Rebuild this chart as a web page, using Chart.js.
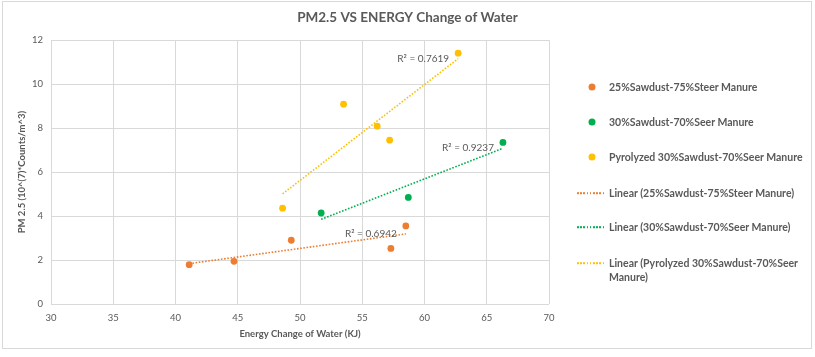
<!DOCTYPE html>
<html><head><meta charset="utf-8">
<script src="https://cdn.jsdelivr.net/npm/chart.js@4.4.1/dist/chart.umd.min.js"></script>
<style>
html,body{margin:0;padding:0;background:#fff;}
#wrap{position:relative;width:815px;height:357px;overflow:hidden;}
#frame{position:absolute;left:2px;top:1px;width:810px;height:348px;border:1px solid #d9d9d9;box-sizing:border-box;}
#c{position:absolute;left:0;top:0;}
#legend{position:absolute;left:0;top:0;width:815px;height:357px;font-family:Lato,"Open Sans",sans-serif;font-size:10.5px;color:#595959;font-weight:bold;}
.txt{position:absolute;left:609px;white-space:nowrap;line-height:14px;transform:translateY(-7px);}
.dot{position:absolute;width:7px;height:7px;border-radius:50%;transform:translate(-3.5px,-3.5px);}
.ln{position:absolute;width:27px;height:1.6px;transform:translateY(-0.8px);}
</style></head>
<body>
<div id="wrap">
<div id="frame"></div>
<canvas id="c" width="815" height="357"></canvas>
<div id="legend"></div>
</div>
<script>
// ---- data ----
const seriesNames = ['25%Sawdust-75%Steer Manure', '30%Sawdust-70%Seer Manure', 'Pyrolyzed 30%Sawdust-70%Seer Manure'];
const trendNames = ['Linear (25%Sawdust-75%Steer Manure)', 'Linear (30%Sawdust-70%Seer Manure)', 'Linear (Pyrolyzed 30%Sawdust-70%Seer|Manure)'];
const seriesColors = ['#ED7D31', '#00B050', '#FFC000'];
const energy25 = [41.1, 44.7, 49.3, 57.3, 58.5];
const pm25 = [1.79, 1.94, 2.9, 2.53, 3.55];
const energy30 = [51.7, 58.7, 66.3];
const pm30 = [4.14, 4.85, 7.35];
const energyPyro = [48.6, 53.5, 56.2, 57.2, 62.7];
const pmPyro = [4.36, 9.09, 8.09, 7.45, 11.41];
const rSquaredLabels = ['R² = 0.6942', 'R² = 0.9237', 'R² = 0.7619'];
const xTickValues = [30, 35, 40, 45, 50, 55, 60, 65, 70];
const yTickValues = [0, 2, 4, 6, 8, 10, 12];
const chartTitle = 'PM2.5 VS ENERGY Change of Water';
const xTitle = 'Energy Change of Water (KJ)';
const yTitle = 'PM 2.5 (10^(7)*Counts/m^3)';

// ---- build ----
const xs = [energy25, energy30, energyPyro];
const ys = [pm25, pm30, pmPyro];
function pts(x, y) { return x.map((v, i) => ({ x: v, y: y[i] })); }
function linFit(x, y) {
  const n = x.length, mx = x.reduce((a, b) => a + b) / n, my = y.reduce((a, b) => a + b) / n;
  let sxy = 0, sxx = 0;
  for (let i = 0; i < n; i++) { sxy += (x[i] - mx) * (y[i] - my); sxx += (x[i] - mx) ** 2; }
  const b = sxy / sxx, a = my - b * mx;
  const x0 = Math.min(...x), x1 = Math.max(...x);
  return [{ x: x0, y: a + b * x0 }, { x: x1, y: a + b * x1 }];
}
const FONT = 'Lato, "Open Sans", sans-serif';
const GREY = '#595959';
const datasets = [];
for (let i = 0; i < 3; i++) {
  datasets.push({
    type: 'scatter', label: seriesNames[i], data: pts(xs[i], ys[i]),
    backgroundColor: seriesColors[i], borderColor: seriesColors[i], borderWidth: 0,
    pointRadius: 3.4, pointHoverRadius: 3.4, order: 1
  });
}
for (let i = 0; i < 3; i++) {
  datasets.push({
    type: 'line', label: trendNames[i], data: linFit(xs[i], ys[i]),
    borderColor: seriesColors[i], borderWidth: 1.6, borderDash: [1.6, 1.6],
    pointRadius: 0, fill: false, tension: 0, order: 2
  });
}

const r2Plugin = {
  id: 'r2',
  afterDatasetsDraw(chart) {
    const ctx = chart.ctx;
    ctx.save();
    ctx.font = '10px ' + FONT;
    ctx.fillStyle = GREY;
    ctx.textAlign = 'right';
    ctx.textBaseline = 'middle';
    for (let i = 0; i < 3; i++) {
      const meta = chart.getDatasetMeta(3 + i);
      const end = meta.data[meta.data.length - 1];
      ctx.fillText(rSquaredLabels[i], end.x - 9, end.y);
    }
    ctx.restore();
  }
};

new Chart(document.getElementById('c'), {
  data: { datasets },
  options: {
    responsive: false, animation: false, devicePixelRatio: 1,
    layout: { padding: { top: 0, left: 0, right: 0, bottom: 0 } },
    plugins: {
      legend: { display: false }, tooltip: { enabled: false },
      title: { display: true, text: chartTitle, color: GREY, font: { family: FONT, size: 13.5, weight: 'bold' }, padding: { top: 10, bottom: 14 } }
    },
    scales: {
      x: {
        type: 'linear', min: 30, max: 70,
        afterBuildTicks: s => { s.ticks = xTickValues.map(v => ({ value: v })); },
        afterFit: s => { s.height = 53; },
        grid: { color: '#d9d9d9', drawTicks: false },
        border: { display: false },
        ticks: { color: GREY, font: { family: FONT, size: 9.5 }, padding: 8 },
        title: { display: true, text: xTitle, color: GREY, font: { family: FONT, size: 9.5, weight: 'bold' }, padding: { top: 0, bottom: 17 } }
      },
      y: {
        type: 'linear', min: 0, max: 12,
        afterBuildTicks: s => { s.ticks = yTickValues.map(v => ({ value: v })); },
        afterFit: s => { s.width = 51; },
        grid: { color: '#d9d9d9', drawTicks: false },
        border: { display: false },
        ticks: { color: GREY, font: { family: FONT, size: 9.5 }, padding: 8 },
        title: { display: true, text: yTitle, color: GREY, font: { family: FONT, size: 9.5, weight: 'bold' }, padding: { top: 16, bottom: 0 } }
      },
      legendSpace: {
        type: 'linear', position: 'right', display: true,
        afterFit: s => { s.width = 266; },
        grid: { display: false, drawTicks: false }, border: { display: false }, ticks: { display: false }
      }
    }
  },
  plugins: [r2Plugin]
});

// HTML legend
const legend = document.getElementById('legend');
const rowY = [87, 122, 157, 193, 227, 263];
for (let i = 0; i < 3; i++) {
  const d = document.createElement('div'); d.className = 'dot';
  d.style.left = '592px'; d.style.top = rowY[i] + 'px'; d.style.background = seriesColors[i];
  legend.appendChild(d);
  const t = document.createElement('div'); t.className = 'txt'; t.style.top = rowY[i] + 'px';
  t.textContent = seriesNames[i]; legend.appendChild(t);
}
for (let i = 0; i < 3; i++) {
  const y = rowY[3 + i];
  const l = document.createElement('div'); l.className = 'ln';
  l.style.left = '577px'; l.style.top = y + 'px';
  l.style.background = 'repeating-linear-gradient(to right,' + seriesColors[i] + ' 0 1.6px, transparent 1.6px 3.2px)';
  legend.appendChild(l);
  const t = document.createElement('div'); t.className = 'txt'; t.style.top = y + 'px';
  t.innerHTML = trendNames[i].split('|').join('<br>');
  legend.appendChild(t);
}
</script>
</body></html>
